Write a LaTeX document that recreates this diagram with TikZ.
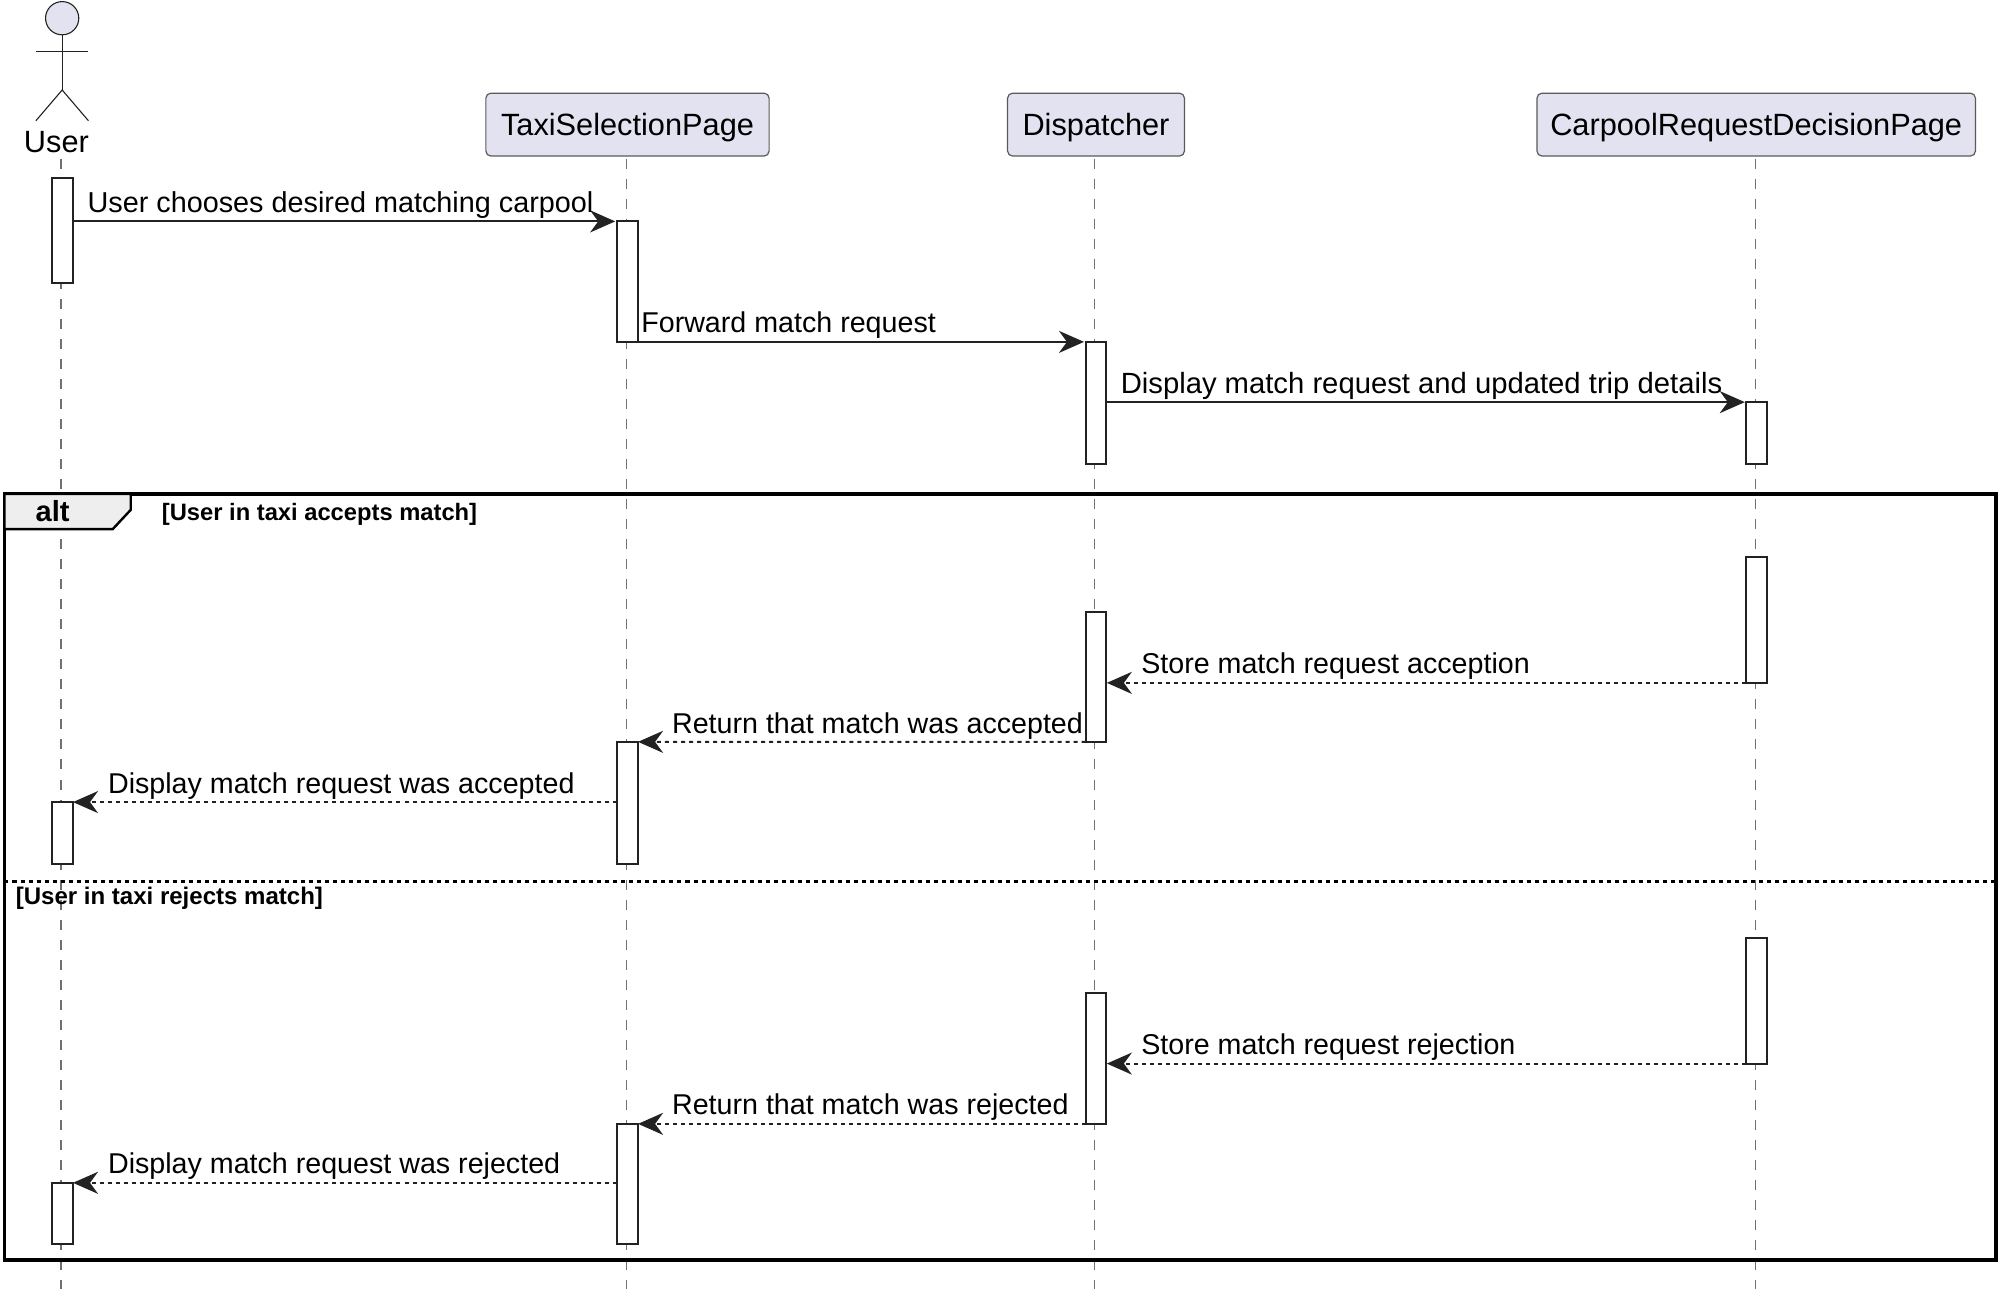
\documentclass[tikz,border=0pt]{standalone}
\usepackage{fontspec}
\setmainfont{Liberation Sans}
\usetikzlibrary{arrows.meta, positioning, calc}
\definecolor{partfill}{HTML}{E2E2F0}
\definecolor{partline}{HTML}{5A5A5A}
\definecolor{lifeline}{HTML}{707070}
\definecolor{actline}{HTML}{222222}
\definecolor{tabfill}{HTML}{EEEEEE}
\tikzset{%
	part/.style={draw=partline, fill=partfill, rectangle, rounded corners=2.5pt, line width=0.6pt,%
		minimum height=31.4pt, inner sep=0mm, text=black, text height=10.5pt, text depth=0pt,%
		font=\fontsize{15.35}{18}\selectfont},
	act/.style={draw=actline, fill=white, rectangle, line width=1pt, inner sep=0mm, outer sep=0mm,%
		minimum width=10.4pt, minimum height=#1*0.64pt, anchor=north},
	life/.style={draw=lifeline, line width=0.65pt, dash pattern=on 5pt off 5pt},
	stick/.style={draw=actline, line width=0.55pt},
	msg/.style={draw=actline, line width=1pt, shorten >=0.8pt, -{Stealth[length=12.5pt, width=11pt, inset=4pt]}},
	ret/.style={msg, shorten >=0.2pt, dash pattern=on 2pt off 2pt},
	msgtext/.style={anchor=base west, inner sep=0mm, font=\fontsize{14.3}{17}\selectfont},
	guard/.style={anchor=base west, inner sep=0mm, font=\bfseries\fontsize{11.85}{14}\selectfont},
	frame/.style={draw=black, line width=1.9pt, rectangle, inner sep=0mm, outer sep=0mm, anchor=north west}
}
\begin{document}
\begin{tikzpicture}[x=0.64pt, y=-0.64pt]
	\useasboundingbox (0,-0.7) rectangle (1568,1015.7);
	\node[part, minimum width=141.4pt] (taxi) at (489.5,96.5) {TaxiSelectionPage};
	\node[part, minimum width=88.3pt] (disp) at (855,96.5) {Dispatcher};
	\node[part, minimum width=218.9pt] (carpool) at (1370,96.5) {CarpoolRequestDecisionPage};
	\node[circle, draw=actline, fill=partfill, line width=0.55pt, minimum size=16.6pt, inner sep=0mm] (head) at (48.5,13.5) {};
	\node[anchor=base, inner sep=0mm, font=\fontsize{15.35}{18}\selectfont] (user) at (44,118) {User};
	\coordinate (hip) at (48.5,69.5);
	\coordinate (neck) at (48.5,39.5);
	\coordinate (arm-l) at (28,39.5);
	\coordinate (arm-r) at (69,39.5);
	\coordinate (foot-l) at (28,93.5);
	\coordinate (foot-r) at (69,93.5);
	\draw[stick] (head) -- (hip);
	\draw[stick] (arm-l) -- (neck) -- (arm-r);
	\draw[stick] (foot-l) -- (hip) -- (foot-r);

	\coordinate (user-top) at (47.7,123);
	\coordinate (taxi-top) at (488.5,123);
	\coordinate (disp-top) at (854,123);
	\coordinate (carpool-top) at (1369.5,123);
	\coordinate (user-end) at (47.7,1005);
	\coordinate (taxi-end) at (488.5,1005);
	\coordinate (disp-end) at (854,1005);
	\coordinate (carpool-end) at (1369.5,1005);
	\draw[life] (user-top) -- (user-end);
	\draw[life] (taxi-top) -- (taxi-end);
	\draw[life] (disp-top) -- (disp-end);
	\draw[life] (carpool-top) -- (carpool-end);

	\node[frame, minimum width=994.2pt, minimum height=382.4pt] (alt) at (3.5,384.5) {};
	\coordinate (tab-a) at (102,384.5);
	\coordinate (tab-b) at (102,397);
	\coordinate (tab-c) at (88,412);
	\coordinate (tab-d) at (3.5,412);
	\draw[fill=tabfill, draw=black, line width=1.2pt] (alt.north west) -- (tab-a) -- (tab-b) -- (tab-c) -- (tab-d) -- cycle;
	\node[anchor=base, inner sep=0mm, font=\bfseries\fontsize{14.5}{16}\selectfont] (alt-name) at (41,406) {alt};
	\node[guard] (guard-a) at (126,405) {[User in taxi accepts match]};
	\coordinate (else-l) at (3.5,687);
	\coordinate (else-r) at (1557,687);
	\draw[draw=black, line width=1.1pt, dash pattern=on 2pt off 2pt] (else-l) -- (else-r);
	\node[guard, font=\bfseries\fontsize{12}{14}\selectfont] (guard-b) at (12,705) {[User in taxi rejects match]};

	\node[act=82] (user-a) at (48.5,138) {};
	\node[act=94] (taxi-a) at (489.3,172) {};
	\node[act=95] (disp-a) at (855,266) {};
	\node[act=48] (carpool-a) at (1370.5,313) {};
	\node[act=98] (carpool-b) at (1370.5,434) {};
	\node[act=101] (disp-b) at (855,477) {};
	\node[act=95] (taxi-b) at (489.3,578) {};
	\node[act=48] (user-b) at (48.5,625) {};
	\node[act=98] (carpool-c) at (1370.5,731) {};
	\node[act=102] (disp-c) at (855,774) {};
	\node[act=94] (taxi-c) at (489.3,876) {};
	\node[act=48] (user-c) at (48.5,922) {};

	\draw[msg] (user-a.east |- taxi-a.north) -- (taxi-a.north west);
	\node[msgtext, font=\fontsize{14.38}{17}\selectfont] (m1) at (68,165) {User chooses desired matching carpool};
	\draw[msg] (taxi-a.south east) -- (disp-a.north west);
	\node[msgtext] (m2) at (500,259) {Forward match request};
	\draw[msg] (disp-a.east |- carpool-a.north) -- (carpool-a.north west);
	\node[msgtext, font=\fontsize{14.6}{17}\selectfont] (m3) at (874,306) {Display match request and updated trip details};

	\draw[ret] (carpool-b.south west) -- (disp-b.east |- carpool-b.south);
	\node[msgtext] (m4) at (890,525) {Store match request acception};
	\draw[ret] (disp-b.south west) -- (taxi-b.north east);
	\node[msgtext] (m5) at (524,571.5) {Return that match was accepted};
	\draw[ret] (taxi-b.west |- user-b.north) -- (user-b.north east);
	\node[msgtext] (m6) at (84,618) {Display match request was accepted};

	\draw[ret] (carpool-c.south west) -- (disp-c.east |- carpool-c.south);
	\node[msgtext] (m7) at (890,822) {Store match request rejection};
	\draw[ret] (disp-c.south west) -- (taxi-c.north east);
	\node[msgtext] (m8) at (524,868.5) {Return that match was rejected};
	\draw[ret] (taxi-c.west |- user-c.north) -- (user-c.north east);
	\node[msgtext] (m9) at (84,915) {Display match request was rejected};
\end{tikzpicture}
\end{document}
